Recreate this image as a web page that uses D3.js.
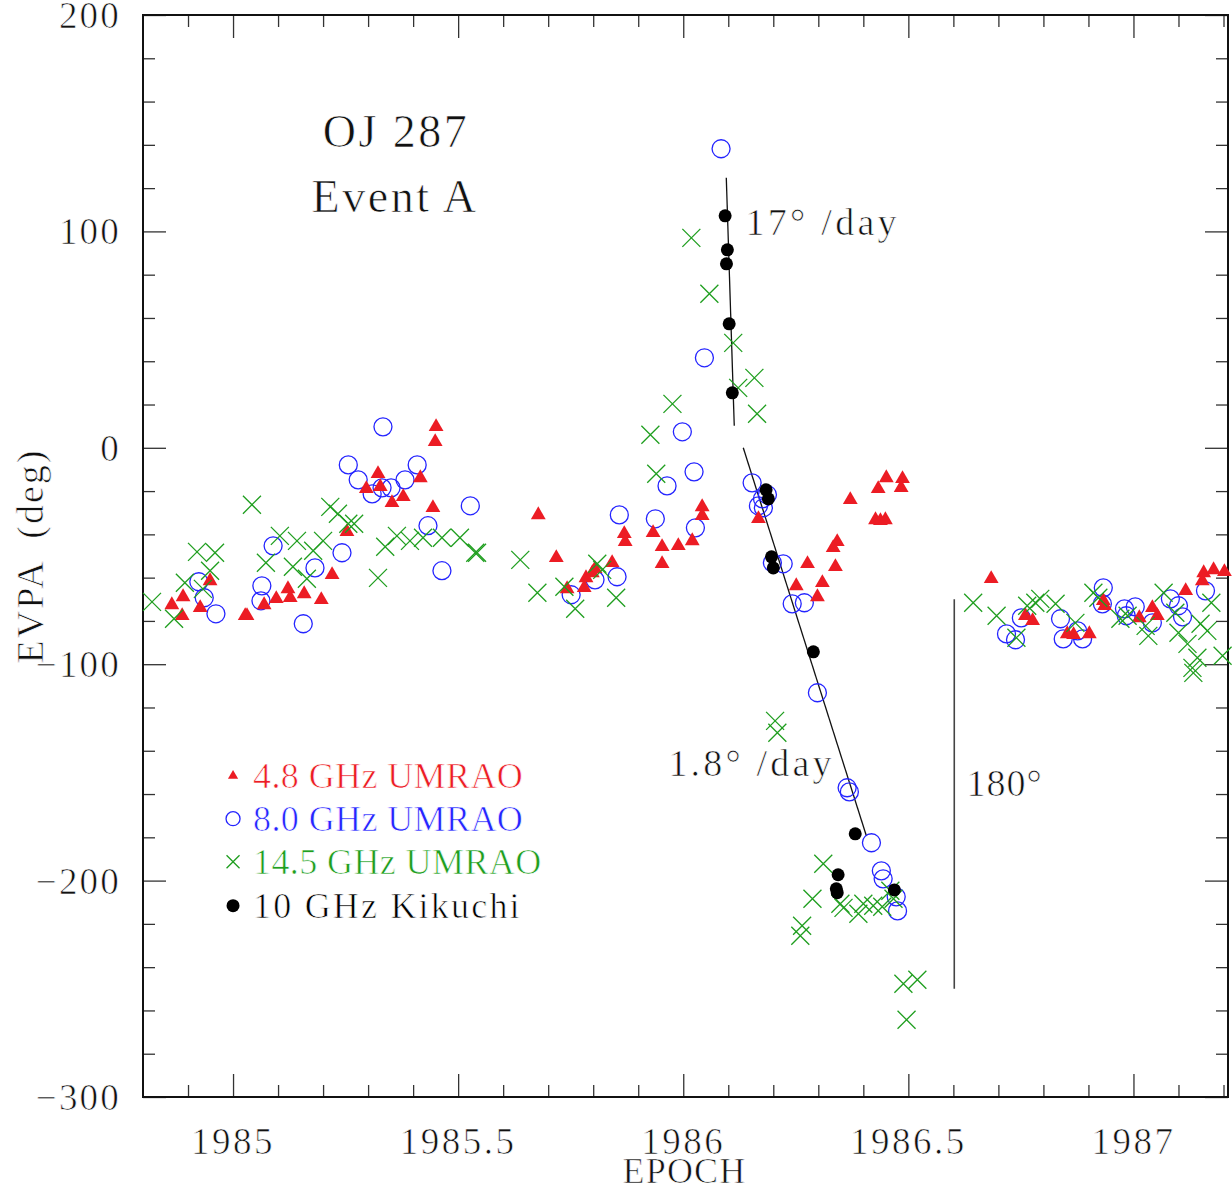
<!DOCTYPE html>
<html>
<head>
<meta charset="utf-8">
<script src="https://cdn.jsdelivr.net/npm/d3@7"></script>
<style>
  html, body { margin: 0; padding: 0; background: #fff; }
  svg { display: block; }
  text { font-family: "Liberation Serif", "DejaVu Serif", serif; stroke: #fff; stroke-width: 0.7px; }
</style>
</head>
<body>
<svg id="chart" width="1232" height="1189"></svg>
<script>
// ---------------- data (epoch, EVPA deg) ----------------
const xTicksMajor = [1985, 1985.5, 1986, 1986.5, 1987];
const xTickLabels = ["1985", "1985.5", "1986", "1986.5", "1987"];
const yTicksMajor = [200, 100, 0, -100, -200, -300];
const yTickLabels = ["200", "100", "0", "\u2212100", "\u2212200", "\u2212300"];

const umrao48 = [
  [1984.864,-72.6],[1984.887,-77.6],[1984.889,-68.9],[1984.927,-73.9],[1984.949,-61.5],
  [1985.027,-77.6],[1985.031,-77.6],[1985.069,-72.6],[1985.096,-69.8],[1985.122,-65.2],
  [1985.127,-69.3],[1985.158,-67.5],[1985.196,-70.2],[1985.220,-58.7],[1985.253,-38.8],
  [1985.296,-18.9],[1985.322,-12.0],[1985.327,-18.0],[1985.353,-25.4],[1985.378,-22.6],
  [1985.416,-13.9],[1985.451,9.7],[1985.449,2.8],[1985.444,-27.7],[1985.678,-31.0],
  [1985.718,-50.8],[1985.742,-65.2],[1985.780,-64.7],[1985.784,-60.1],[1985.798,-57.8],
  [1985.804,-55.9],[1985.842,-53.1],[1985.869,-39.7],[1985.871,-43.4],[1985.933,-39.3],
  [1985.953,-45.7],[1985.953,-53.6],[1985.989,-45.3],[1986.020,-43.0],[1986.042,-27.3],
  [1986.042,-31.4],[1986.167,-32.8],[1986.251,-63.8],[1986.276,-53.6],[1986.298,-68.9],
  [1986.309,-62.4],[1986.333,-46.2],[1986.342,-43.4],[1986.338,-55.0],[1986.371,-24.0],
  [1986.433,-18.9],[1986.451,-13.9],[1986.427,-33.3],[1986.438,-33.7],[1986.449,-33.3],
  [1986.487,-14.3],[1986.484,-18.5],[1986.684,-60.5],[1986.760,-77.6],[1986.776,-79.9],
  [1986.853,-86.0],[1986.867,-86.4],[1986.902,-86.0],[1986.933,-70.7],[1986.936,-73.0],
  [1987.013,-78.6],[1987.042,-73.9],[1987.053,-77.6],[1987.116,-66.1],[1987.153,-61.5],
  [1987.156,-57.8],[1987.178,-56.4],[1987.202,-57.3]
];

const umrao80 = [
  [1984.924,-61.9],[1984.936,-69.3],[1984.962,-76.7],[1985.062,-70.7],[1985.064,-63.8],
  [1985.089,-45.3],[1985.156,-81.3],[1985.182,-55.5],[1985.242,-48.5],[1985.256,-7.9],
  [1985.278,-14.8],[1985.309,-21.3],[1985.331,-18.5],[1985.351,-18.5],[1985.382,-14.8],
  [1985.409,-7.9],[1985.333,9.7],[1985.433,-36.0],[1985.464,-56.8],[1985.527,-26.8],
  [1985.751,-67.9],[1985.804,-61.0],[1985.853,-59.6],[1985.858,-31.0],[1985.938,-32.8],
  [1985.964,-17.6],[1985.998,7.4],[1986.024,-11.1],[1986.027,-37.0],[1986.047,41.6],
  [1986.084,138.2],[1986.153,-16.2],[1986.187,-21.7],[1986.176,-23.6],[1986.178,-27.7],
  [1986.167,-26.8],[1986.198,-53.1],[1986.222,-53.6],[1986.242,-72.1],[1986.269,-71.6],
  [1986.298,-113.2],[1986.364,-157.1],[1986.369,-159.0],[1986.418,-182.5],[1986.440,-195.5],
  [1986.444,-199.2],[1986.473,-207.5],[1986.476,-214.0],[1986.718,-86.0],[1986.738,-88.7],
  [1986.751,-78.6],[1986.838,-79.0],[1986.844,-88.3],[1986.876,-84.6],[1986.887,-88.3],
  [1986.933,-64.7],[1986.931,-72.1],[1986.980,-74.4],[1987.004,-73.5],[1986.984,-77.6],
  [1987.042,-80.9],[1987.082,-69.8],[1987.100,-73.0],[1987.109,-78.1],[1987.160,-66.1]
];

const umrao145 = [
  [1984.820,-71.2],[1984.869,-79.0],[1984.893,-62.4],[1984.920,-48.1],[1984.933,-65.2],
  [1984.949,-56.8],[1984.960,-48.5],[1985.042,-26.3],[1985.073,-53.1],[1985.104,-40.7],
  [1985.133,-55.0],[1985.142,-43.0],[1985.164,-60.5],[1985.178,-47.6],[1985.200,-43.0],
  [1985.216,-27.3],[1985.233,-30.5],[1985.256,-35.1],[1985.269,-35.1],[1985.322,-60.1],
  [1985.338,-45.7],[1985.364,-40.7],[1985.393,-43.0],[1985.422,-41.6],[1985.464,-41.6],
  [1985.504,-41.6],[1985.538,-48.5],[1985.542,-48.5],[1985.638,-51.8],[1985.676,-67.0],
  [1985.736,-64.2],[1985.760,-74.4],[1985.809,-53.6],[1985.820,-56.4],[1985.851,-69.3],
  [1985.927,6.0],[1985.940,-12.0],[1985.976,20.3],[1986.018,97.0],[1986.058,71.2],
  [1986.111,48.5],[1986.122,27.7],[1986.158,32.3],[1986.164,15.7],[1986.204,-126.2],
  [1986.209,-131.7],[1986.311,-192.2],[1986.287,-208.4],[1986.264,-220.9],[1986.260,-225.5],
  [1986.349,-210.7],[1986.356,-212.6],[1986.389,-215.3],[1986.400,-210.7],[1986.422,-211.6],
  [1986.442,-212.1],[1986.460,-204.7],[1986.467,-208.4],[1986.489,-247.7],[1986.520,-245.8],
  [1986.496,-264.3],[1986.644,-71.6],[1986.696,-77.6],[1986.740,-87.8],[1986.764,-73.0],
  [1986.782,-71.6],[1986.793,-69.8],[1986.827,-72.1],[1986.871,-80.9],[1986.911,-67.0],
  [1986.922,-69.3],[1986.971,-79.0],[1986.987,-77.6],[1987.027,-82.3],[1987.033,-86.9],
  [1987.067,-67.0],[1987.093,-76.2],[1987.100,-85.5],[1987.120,-90.6],[1987.149,-81.3],
  [1987.164,-84.6],[1987.173,-71.6],[1987.142,-97.0],[1987.131,-101.7],[1987.133,-104.0],
  [1987.198,-96.1]
];

const kikuchi10 = [
  [1986.093,107.2],[1986.098,91.5],[1986.096,85.0],[1986.102,57.3],[1986.109,25.4],
  [1986.184,-19.4],[1986.189,-23.6],[1986.196,-50.4],[1986.200,-55.5],[1986.289,-94.3],
  [1986.382,-178.4],[1986.344,-197.3],[1986.340,-203.8],[1986.342,-205.6],[1986.469,-204.3]
];

const fitFast = [[1986.0956,124.8],[1986.1133,10.2]];   // 17 deg/day
const fitSlow = [[1986.1333,0.0],[1986.4067,-179.3]];   // 1.8 deg/day
const jump180 = [[1986.602,-70.0],[1986.602,-250.0]];   // 180 deg

const legendLabels = ["4.8 GHz UMRAO", "8.0 GHz UMRAO", "14.5 GHz UMRAO", "10 GHz Kikuchi"];

// ---------------- styles ----------------
const RED = "#ec1c24", BLUE = "#2424ff", GREEN = "#1f9e1f", BLACK = "#000";

const svg = d3.select("#chart");
const L = 143, R = 1228, T = 15, B = 1097;
const x = d3.scaleLinear().domain([1984.8, 1987.21]).range([L, R]);
const y = d3.scaleLinear().domain([-300, 200]).range([B, T]);

// ---------------- axes / frame ----------------
const minorX = d3.range(1984.9, 1987.21, 0.1).map(v => +v.toFixed(1)).filter(v => !xTicksMajor.includes(v));
const minorY = d3.range(-280, 200, 20).filter(v => !yTicksMajor.includes(v));

function styleAxis(g) {
  g.select(".domain").remove();
  g.selectAll(".tick line").attr("stroke", "#333").attr("stroke-width", 1.3);
  g.selectAll("text").remove();
}
const axes = svg.append("g");
axes.append("g").attr("transform", `translate(0,${B})`)
  .call(d3.axisBottom(x).tickValues(xTicksMajor).tickSize(-23)).call(styleAxis);
axes.append("g").attr("transform", `translate(0,${B})`)
  .call(d3.axisBottom(x).tickValues(minorX).tickSize(-12)).call(styleAxis);
axes.append("g").attr("transform", `translate(0,${T})`)
  .call(d3.axisTop(x).tickValues(xTicksMajor).tickSize(-23)).call(styleAxis);
axes.append("g").attr("transform", `translate(0,${T})`)
  .call(d3.axisTop(x).tickValues(minorX).tickSize(-12)).call(styleAxis);
axes.append("g").attr("transform", `translate(${L},0)`)
  .call(d3.axisLeft(y).tickValues(yTicksMajor).tickSize(-23)).call(styleAxis);
axes.append("g").attr("transform", `translate(${L},0)`)
  .call(d3.axisLeft(y).tickValues(minorY).tickSize(-12)).call(styleAxis);
axes.append("g").attr("transform", `translate(${R},0)`)
  .call(d3.axisRight(y).tickValues(yTicksMajor).tickSize(-23)).call(styleAxis);
axes.append("g").attr("transform", `translate(${R},0)`)
  .call(d3.axisRight(y).tickValues(minorY).tickSize(-12)).call(styleAxis);

svg.append("rect").attr("x", L).attr("y", T).attr("width", R - L).attr("height", B - T)
  .attr("fill", "none").attr("stroke", "#111").attr("stroke-width", 2);

// tick labels
svg.append("g").selectAll("text").data(xTicksMajor).join("text")
  .attr("x", d => x(d)).attr("y", B + 57).attr("text-anchor", "middle")
  .attr("font-size", 37).attr("letter-spacing", 2.5).attr("fill", "#111")
  .text((d, i) => xTickLabels[i]);
svg.append("g").selectAll("text").data(yTicksMajor).join("text")
  .attr("x", L - 22).attr("y", d => y(d) + 13).attr("text-anchor", "end")
  .attr("font-size", 37).attr("letter-spacing", 2.2).attr("fill", "#111")
  .text((d, i) => yTickLabels[i]);

// axis titles
svg.append("text").attr("x", (L + R) / 2 - 1).attr("y", 1183).attr("text-anchor", "middle")
  .attr("font-size", 36).attr("letter-spacing", 1.2).attr("fill", "#111").text("EPOCH");
svg.append("text").attr("transform", `translate(43,556) rotate(-90)`).attr("text-anchor", "middle")
  .attr("font-size", 38).attr("letter-spacing", 2).attr("fill", "#111")
  .attr("xml:space", "preserve").text("EVPA  (deg)");

// ---------------- lines ----------------
const line = d3.line().x(d => x(d[0])).y(d => y(d[1]));
[fitFast, fitSlow].forEach(seg => svg.append("path").attr("d", line(seg))
  .attr("fill", "none").attr("stroke", "#111").attr("stroke-width", 1.3));
svg.append("path").attr("d", line(jump180)).attr("fill", "none")
  .attr("stroke", "#444").attr("stroke-width", 1.6);

// ---------------- markers ----------------
const triPath = d3.symbol(d3.symbolTriangle, 95)();
const triSmall = d3.symbol(d3.symbolTriangle, 45)();

function drawCircles(g, data, r) {
  g.selectAll("circle").data(data).join("circle")
    .attr("cx", d => x(d[0])).attr("cy", d => y(d[1])).attr("r", r)
    .attr("fill", "none").attr("stroke", BLUE).attr("stroke-width", 1.3);
}
function drawTris(g, data, p) {
  g.selectAll("path").data(data).join("path")
    .attr("d", p).attr("transform", d => `translate(${x(d[0])},${y(d[1])})`)
    .attr("fill", RED);
}
function drawCrosses(g, data, h) {
  g.selectAll("path").data(data).join("path")
    .attr("d", d => {
      const cx = x(d[0]), cy = y(d[1]);
      return `M${cx - h},${cy - h}L${cx + h},${cy + h}M${cx - h},${cy + h}L${cx + h},${cy - h}`;
    })
    .attr("fill", "none").attr("stroke", GREEN).attr("stroke-width", 1.3);
}
function drawDots(g, data, r) {
  g.selectAll("circle").data(data).join("circle")
    .attr("cx", d => x(d[0])).attr("cy", d => y(d[1])).attr("r", r).attr("fill", BLACK);
}

drawCircles(svg.append("g"), umrao80, 9);
drawTris(svg.append("g"), umrao48, triPath);
drawCrosses(svg.append("g"), umrao145, 9);
drawDots(svg.append("g"), kikuchi10, 6.5);

// ---------------- annotations ----------------
function label(txt, xv, yv, size, spacing, anchor) {
  svg.append("text").attr("x", x(xv)).attr("y", y(yv)).attr("font-size", size)
    .attr("letter-spacing", spacing).attr("text-anchor", anchor || "start")
    .attr("fill", "#111").attr("xml:space", "preserve").text(txt);
}
label("OJ 287", 1985.362, 139.1, 46, 2.5, "middle");
label("Event A", 1985.360, 109.1, 46, 2.5, "middle");
label("17\u00B0 /day", 1986.138, 98.4, 38, 3.3);
label("1.8\u00B0 /day", 1985.967, -151.6, 38, 3.2);
label("180\u00B0", 1986.629, -160.8, 38, 1);

// ---------------- legend ----------------
const legY = [-151.6, -171.4, -191.3, -211.6];
const legColors = [RED, BLUE, GREEN, BLACK];
const legX = 1985.0;
const lg = svg.append("g");
drawTris(lg.append("g"), [[legX, legY[0]]], triSmall);
drawCircles(lg.append("g"), [[legX, legY[1]]], 7);
drawCrosses(lg.append("g"), [[legX, legY[2]]], 6.5);
drawDots(lg.append("g"), [[legX, legY[3]]], 6.5);
lg.selectAll("text").data(legendLabels).join("text")
  .attr("x", x(legX) + 20).attr("y", (d, i) => y(legY[i]) + 12)
  .attr("font-size", 36).attr("letter-spacing", (d, i) => i === 3 ? 2.2 : 0.4)
  .attr("fill", (d, i) => legColors[i]).text(d => d);
</script>
</body>
</html>
